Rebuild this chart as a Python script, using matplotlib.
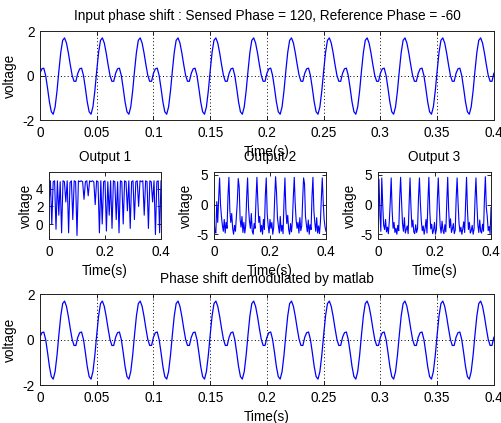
import matplotlib as mpl
import matplotlib.pyplot as plt
import numpy as np

mpl.use('Agg')
plt.rcParams['font.family'] = ['Liberation Sans', 'DejaVu Sans']
plt.rcParams['font.size'] = 9.8
plt.rcParams['axes.titlesize'] = 9.8
plt.rcParams['axes.labelsize'] = 9.8
plt.rcParams['axes.unicode_minus'] = False

SENSED_PHASE = 120
REFERENCE_PHASE = -60

# one 30 Hz cycle of the phase shifted input, 20 samples per cycle
CYCLE_SAMPLES = [0.10, 0.30, 0.33, 0.00, -0.57, -1.19, -1.63, -1.74, -1.41, -0.70,
                 0.21, 1.04, 1.58, 1.69, 1.46, 1.02, 0.49, 0.01, -0.26, -0.26]
N_CYCLES = 12
INPUT_TIME = np.linspace(0, 0.4, 20 * N_CYCLES + 1)
INPUT_SIGNAL = np.append(np.tile(CYCLE_SAMPLES, N_CYCLES), CYCLE_SAMPLES[0])
DEMOD_SIGNAL = INPUT_SIGNAL.copy()

# channel 1, sampled every 5 ms
OUT1_TIME = np.linspace(0, 0.4, 81)
OUT1 = [2.0, 4.9, 0.0, 4.8, 4.9, -0.6, 4.9, 1.0, 4.8, -1.0,
        4.9, 4.8, 2.5, 4.9, -1.0, 4.7, 4.9, 0.5, 4.9, 4.8,
        -1.3, 4.9, 4.8, 4.9, 4.8, 2.8, 4.8, 4.9, 3.2, 4.9,
        4.8, 4.9, 4.8, 2.2, 4.9, 4.8, -1.0, 4.9, 0.0, 4.8,
        4.9, -0.8, 4.8, 1.0, 4.9, -0.5, 4.9, 4.8, 0.5, 4.8,
        -1.0, 4.9, 4.8, 0.0, 4.9, 4.8, 1.5, 4.9, -0.5, 4.8,
        4.9, 0.5, 4.8, 4.9, 2.0, 4.9, 4.8, 4.9, 1.0, 4.9,
        4.8, -0.5, 4.9, 4.8, 2.5, 4.9, -1.2, 4.8, 4.9, -1.0,
        4.9]

# channels 2 and 3, sampled at 300 Hz
OUT23_TIME = np.linspace(0, 0.4, 121)
OUT2 = [-2.5, -4.5, -4.8, 0.5, -3.0, 1.0, 4.5, 0.0, -2.0, -3.5,
        -4.5, -2.5, -4.8, -3.0, -4.0, 1.5, 4.6, -1.0, -3.0, -1.5,
        -4.0, -5.0, -3.5, -4.5, -2.0, 0.5, 4.4, 3.0, -2.5, -3.8,
        -2.0, -4.7, -3.0, -4.8, -3.5, 1.2, 4.5, -0.5, -2.8, -4.0,
        -1.5, -4.5, -5.0, -3.2, -4.0, 0.8, 4.6, 0.5, -3.0, -2.0,
        -4.6, -3.5, -5.0, -2.5, -4.2, 1.5, 4.5, -1.5, -3.5, -4.8,
        -2.5, -4.0, -3.0, -5.0, -3.8, 1.0, 4.7, 2.0, -2.2, -3.6,
        -4.8, -2.0, -4.5, -3.5, -4.9, 0.5, 4.5, -0.8, -3.2, -1.8,
        -4.2, -5.0, -3.2, -4.6, -2.8, 1.3, 4.6, 0.2, -2.6, -4.0,
        -3.0, -4.8, -2.2, -4.4, -3.6, 0.8, 4.5, 3.5, -2.0, -3.4,
        -4.6, -2.6, -5.0, -3.4, -4.2, 1.4, 4.6, -1.0, -3.0, -4.5,
        -2.2, -4.8, -3.6, -4.9, -3.0, 1.0, 4.5, 0.5, -2.5, -3.8,
        -4.5]
OUT3 = [-2.5, 4.3, -1.5, -4.5, 4.5, 0.0, -3.5, -4.2, -2.5, -4.6,
        -3.8, -4.9, -2.8, 0.5, 4.5, -1.0, -4.0, -3.0, -4.7, -4.0,
        -5.0, -3.5, -4.4, 1.0, 4.6, 0.5, -3.2, -4.5, -2.2, -4.8,
        -4.2, -3.6, -4.9, 0.0, 4.5, -0.5, -3.8, -2.6, -4.6, -4.9,
        -3.4, -4.7, -4.0, 1.2, 4.5, 0.2, -2.8, -4.4, -3.6, -5.0,
        -4.0, -2.5, -4.8, 0.6, 4.6, -1.2, -4.1, -3.3, -4.9, -4.3,
        -3.0, -5.0, -4.2, 0.8, 4.5, 0.0, -3.6, -4.8, -2.8, -4.4,
        -4.9, -3.4, -4.6, 0.4, 4.6, -0.8, -3.9, -2.4, -4.7, -4.1,
        -3.2, -4.9, -4.3, 1.1, 4.5, 0.3, -3.1, -4.6, -3.8, -5.0,
        -4.1, -2.9, -4.7, 0.2, 4.6, -1.0, -4.2, -3.0, -4.8, -4.4,
        -3.5, -5.0, -4.1, 0.9, 4.5, 0.1, -3.4, -4.7, -2.6, -4.5,
        -4.8, -3.3, -4.5, 1.0, 4.7, -0.5, -2.0, -4.4, -3.7, -4.9,
        -0.5]

BLUE = '#0000ff'


def matlabAxes(ax, grid: bool) -> None:
    # boxed axes with inward ticks on all four sides
    ax.tick_params(direction='in', top=True, right=True, length=3, width=0.6, pad=4)
    for s in ax.spines.values():
        s.set_linewidth(0.7)
        s.set_color('#222222')
    if grid:
        ax.grid(True, linestyle=(0, (1, 2.5)), color='black', linewidth=0.7)
        ax.set_axisbelow(True)


def wavePanel(ax, t, v, title: str) -> None:
    ax.plot(t, v, color=BLUE, linewidth=0.9)
    ax.set_xlim(0, 0.4)
    ax.set_ylim(-2, 2)
    ax.set_xticks([0, 0.05, 0.1, 0.15, 0.2, 0.25, 0.3, 0.35, 0.4])
    ax.set_xticklabels(['0', '0.05', '0.1', '0.15', '0.2', '0.25', '0.3', '0.35', '0.4'])
    ax.set_yticks([-2, 0, 2])
    ax.set_title(title, pad=8)
    ax.set_xlabel('Time(s)', labelpad=4)
    ax.set_ylabel('voltage', labelpad=4)
    matlabAxes(ax, grid=True)


def outputPanel(ax, t, v, title: str, ylim, yticks) -> None:
    ax.plot(t, v, color=BLUE, linewidth=0.8)
    ax.set_xlim(0, 0.4)
    ax.set_ylim(*ylim)
    ax.set_xticks([0, 0.2, 0.4])
    ax.set_xticklabels(['0', '0.2', '0.4'])
    ax.set_yticks(yticks)
    ax.set_title(title, pad=8)
    ax.set_xlabel('Time(s)', labelpad=4)
    ax.set_ylabel('voltage', labelpad=2)
    matlabAxes(ax, grid=False)


def main() -> None:
    fig = plt.figure(figsize=(5.01, 4.23), dpi=100)
    fig.patch.set_facecolor('white')

    top = fig.add_axes([0.0798, 0.7163, 0.906, 0.2104])
    wavePanel(top, INPUT_TIME, INPUT_SIGNAL,
              f'Input phase shift : Sensed Phase = {SENSED_PHASE}, Reference Phase = {REFERENCE_PHASE}')

    o1 = fig.add_axes([0.0978, 0.435, 0.2236, 0.1584])
    outputPanel(o1, OUT1_TIME, OUT1, 'Output 1', (-1.7, 5.9), [0, 2, 4])
    o2 = fig.add_axes([0.4271, 0.435, 0.2236, 0.1584])
    outputPanel(o2, OUT23_TIME, OUT2, 'Output 2', (-5.8, 5.5), [-5, 0, 5])
    o3 = fig.add_axes([0.7545, 0.435, 0.2256, 0.1584])
    outputPanel(o3, OUT23_TIME, OUT3, 'Output 3', (-5.8, 5.5), [-5, 0, 5])

    bottom = fig.add_axes([0.0798, 0.0898, 0.906, 0.2151])
    wavePanel(bottom, INPUT_TIME, DEMOD_SIGNAL, 'Phase shift demodulated by matlab')

    fig.savefig('out.png', dpi=100, facecolor='white')


if __name__ == "__main__":
    main()
